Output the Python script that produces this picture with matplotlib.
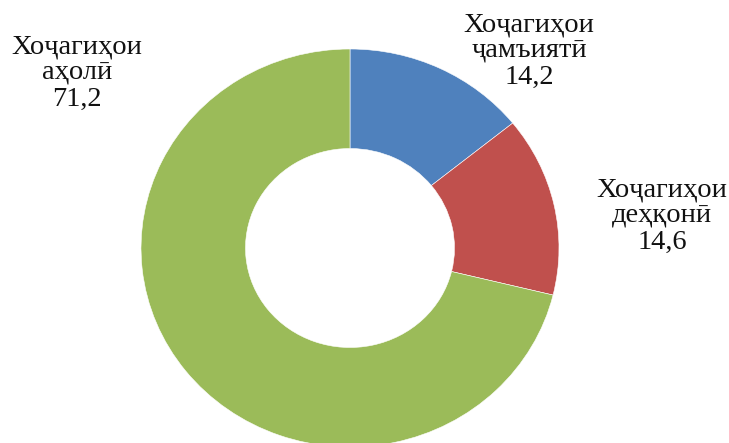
import matplotlib
matplotlib.use("Agg")
import matplotlib.pyplot as plt

categories = ["Хоҷагиҳои\nҷамъиятӣ", "Хоҷагиҳои\nдеҳқонӣ", "Хоҷагиҳои\nаҳолӣ"]
values = [14.2, 14.6, 71.2]
colors = ["#4F81BD", "#C0504D", "#9BBB59"]

W, H = 729, 443
fig = plt.figure(figsize=(W / 100, H / 100), dpi=100)
plt.rcParams['font.family'] = ['Liberation Serif', 'DejaVu Serif']

# donut: center (350, 248) px from top, radius 209 px horiz, 199 px vert
cx, cy = 350, H - 248
rx, ry = 209, 199
ax = fig.add_axes([(cx - 1.25 * rx) / W, (cy - 1.25 * ry) / H,
                   2.5 * rx / W, 2.5 * ry / H])
ax.pie(values, colors=colors, startangle=90, counterclock=False,
       wedgeprops=dict(width=0.5, edgecolor="white", linewidth=0.4))
ax.set_aspect("auto")
ax.set_xlim(-1.25, 1.25)
ax.set_ylim(-1.25, 1.25)
ax.axis("off")

label_pos = [(529, 51), (662, 216), (77, 73)]
for cat, v, (x, y) in zip(categories, values, label_pos):
    txt = cat + "\n" + f"{v:.1f}".replace(".", ",")
    fig.text(x / W, 1 - y / H, txt, ha="center", va="center",
             multialignment="center", fontsize=20.5, linespacing=1.07,
             color="#111111")

fig.savefig("out.png", dpi=100)
